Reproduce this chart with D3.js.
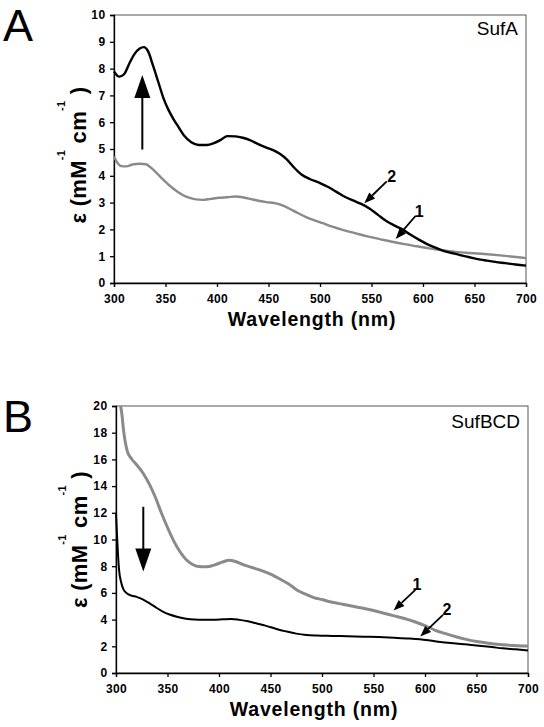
<!DOCTYPE html>
<html><head><meta charset="utf-8">
<script src="https://cdn.jsdelivr.net/npm/d3@7"></script>
<style>
html,body{margin:0;padding:0;background:#fff;}
svg{display:block;font-family:"Liberation Sans",Arial,Helvetica,sans-serif;}
</style></head>
<body>
<script>
// ---------- DATA ----------
const xTicks = [300,350,400,450,500,550,600,650,700];
const yTicksA = [0,1,2,3,4,5,6,7,8,9,10];
const yTicksB = [0,2,4,6,8,10,12,14,16,18,20];

// Panel A, SufA
const aWl2 = [300,305,310,315,320,325,329,333,338,343,348,353,358,363,368,375,382,390,397,404,410,418,425,432,440,448,455,461,468,475,482,490,500,508,516,524,532,540,548,556,564,572,580,588,596,604,612,620,628,636,644,652,660,670,680,690,700];
const aEps2 = [7.9,7.7,7.8,8.2,8.55,8.75,8.8,8.65,8.1,7.5,6.9,6.45,6.1,5.8,5.5,5.25,5.15,5.15,5.22,5.35,5.48,5.47,5.42,5.33,5.18,5.05,4.95,4.82,4.6,4.3,4.05,3.88,3.73,3.58,3.4,3.22,3.08,2.95,2.78,2.55,2.32,2.15,2.0,1.8,1.62,1.45,1.32,1.2,1.12,1.04,0.97,0.9,0.85,0.79,0.74,0.69,0.65];
const aWl1 = [300,303,307,312,318,325,331,336,342,348,355,362,370,378,386,394,402,410,418,425,432,440,448,456,462,470,478,486,494,502,512,522,534,546,558,570,582,594,606,618,630,645,660,675,690,700];
const aEps1 = [4.72,4.5,4.36,4.35,4.42,4.45,4.43,4.3,4.08,3.85,3.6,3.4,3.22,3.13,3.1,3.14,3.18,3.2,3.23,3.2,3.14,3.07,3.02,2.98,2.92,2.78,2.62,2.47,2.35,2.24,2.1,1.98,1.86,1.74,1.64,1.54,1.45,1.37,1.29,1.22,1.17,1.12,1.08,1.03,0.97,0.93];

// Panel B, SufBCD
const bWl1 = [304.5,306,307,309,311,315,320,326,332,338,344,350,356,362,368,374,380,388,396,403,410,416,424,432,440,450,460,468,476,484,492,500,510,520,530,540,550,560,570,580,590,600,610,620,630,640,650,660,670,680,690,700];
const bEps1 = [20.0,19.2,18.4,17.3,16.6,16.05,15.6,15.0,14.2,13.2,12.0,10.9,9.9,9.1,8.5,8.15,7.98,7.95,8.1,8.3,8.45,8.35,8.1,7.9,7.7,7.4,7.0,6.65,6.2,5.9,5.65,5.5,5.3,5.15,5.0,4.85,4.68,4.48,4.28,4.08,3.84,3.55,3.2,2.95,2.72,2.52,2.36,2.25,2.16,2.09,2.05,2.03];
const bWl2 = [300,301,302,303,305,307,310,315,320,326,332,338,345,352,360,368,376,385,395,404,412,420,428,436,445,455,465,475,485,495,510,525,540,555,570,585,595,605,615,625,635,645,655,665,675,688,700];
const bEps2 = [12.0,10.3,8.8,7.7,6.8,6.3,6.0,5.8,5.7,5.52,5.25,4.95,4.62,4.38,4.2,4.07,4.0,3.98,3.98,4.02,4.05,3.98,3.88,3.72,3.55,3.32,3.12,2.95,2.85,2.81,2.78,2.75,2.72,2.69,2.64,2.58,2.52,2.43,2.33,2.25,2.18,2.1,2.02,1.94,1.85,1.77,1.69];

// annotations: [x1,y1,x2,y2] in data units (from -> tip)
const aBigArrow = [327.5,4.98,327.5,7.76];
const bBigArrow = [326.5,12.45,326.5,7.6];
const aLabels = [{t:"2",x:569.6,y:3.98,ax:[564.8,3.79,543,2.98]},{t:"1",x:596.4,y:2.67,ax:[592.9,2.51,573.5,1.64]}];
const bLabels = [{t:"1",x:592.2,y:6.67,ax:[590.6,6.23,569.5,4.68]},{t:"2",x:621.4,y:4.78,ax:[617.5,4.36,595.4,2.74]}];

// ---------- DRAW ----------
const W = 544, H = 727;
const svg = d3.select("body").append("svg").attr("width",W).attr("height",H);
const GRAY = "#8a8a8a";

function panel(o){
  const g = svg.append("g").attr("transform",`translate(${o.left},${o.top})`);
  const x = d3.scaleLinear().domain([300,700]).range([0,o.w]);
  const y = d3.scaleLinear().domain([0,o.ymax]).range([o.h,0]);
  // frame
  g.append("rect").attr("width",o.w).attr("height",o.h).attr("fill","none").attr("stroke","#555").attr("stroke-width",1);
  // axes
  const xa = g.append("g").attr("transform",`translate(0,${o.h})`)
    .call(d3.axisBottom(x).tickValues(xTicks).tickSize(4).tickPadding(7.5).tickFormat(d3.format("d")));
  const ya = g.append("g").call(d3.axisLeft(y).tickValues(o.yTicks).tickSize(4).tickPadding(4.5).tickFormat(d3.format("d")));
  [xa,ya].forEach(a=>{
    a.select(".domain").attr("stroke","#000").attr("stroke-width",1.3);
    a.selectAll(".tick line").attr("stroke","#000").attr("stroke-width",1.3);
    a.selectAll("text").attr("fill","#000").style("font-size","12px").style("font-weight","bold")
      .style("letter-spacing","0.4px")
      .style("font-family",'"Liberation Sans",Arial,sans-serif');
  });
  const line = d3.line().x(d=>x(d[0])).y(d=>y(d[1])).curve(d3.curveMonotoneX);
  o.series.forEach(s=>{
    g.append("path").datum(d3.zip(s.wl,s.v)).attr("d",line)
      .attr("fill","none").attr("stroke",s.color).attr("stroke-width",s.sw).attr("stroke-linejoin","round");
  });
  // big arrow
  const ba = o.big;
  const dir = Math.sign(y(ba[3])-y(ba[1]));
  const hx = x(ba[2]), ty = y(ba[3]), headL = 23, headW = 8;
  g.append("line").attr("x1",x(ba[0])).attr("y1",y(ba[1])).attr("x2",hx).attr("y2",ty-dir*headL*0.8)
    .attr("stroke","#000").attr("stroke-width",2);
  g.append("path").attr("d",`M${hx},${ty} L${hx-headW},${ty-dir*headL} L${hx+headW},${ty-dir*headL} Z`).attr("fill","#000");
  // small labelled arrows
  o.labels.forEach(l=>{
    const [x1,y1,x2,y2] = l.ax.map((v,i)=>i%2?y(v):x(v));
    const ang = Math.atan2(y2-y1,x2-x1), hl=11, hw=4.2;
    const bx = x2-hl*Math.cos(ang), by = y2-hl*Math.sin(ang);
    g.append("line").attr("x1",x1).attr("y1",y1).attr("x2",bx).attr("y2",by).attr("stroke","#000").attr("stroke-width",1.8);
    g.append("path").attr("d",`M${x2},${y2} L${bx+hw*Math.sin(ang)},${by-hw*Math.cos(ang)} L${bx-hw*Math.sin(ang)},${by+hw*Math.cos(ang)} Z`).attr("fill","#000");
    g.append("text").attr("x",x(l.x)).attr("y",y(l.y)).attr("dy","0.35em").attr("text-anchor","middle")
      .style("font-size","16px").style("font-weight","bold").text(l.t);
  });
  // sample name
  g.append("text").attr("x",o.w-8).attr("y",o.nameY).attr("text-anchor","end").style("font-size","19px").text(o.name);
  // x title
  g.append("text").attr("x",o.w/2-8).attr("y",o.h+43).attr("text-anchor","middle")
    .style("font-size","19.5px").style("font-weight","bold").style("letter-spacing","0.8px").text("Wavelength (nm)");
  // y title
  const yt = g.append("text").attr("transform",`translate(${o.ytx},${o.h/2+o.yty}) rotate(-90)`).attr("text-anchor","middle")
    .style("font-size","22px").style("font-weight","bold").style("letter-spacing","0.3px");
  yt.append("tspan").text("ε (mM");
  yt.append("tspan").attr("dy",-21).style("font-size","11px").text("-1");
  yt.append("tspan").attr("dy",21).text(" cm");
  yt.append("tspan").attr("dy",-21).style("font-size","11px").text("-1");
  yt.append("tspan").attr("dy",21).text(" )");
  // panel letter
  svg.append("text").attr("x",3).attr("y",o.top+o.letterDY).style("font-size","45px").text(o.letter);
}

panel({left:114,top:15,w:412,h:268,ymax:10,yTicks:yTicksA,name:"SufA",nameY:20,letter:"A",letterDY:26,ytx:-28,yty:6,
  series:[{wl:aWl1,v:aEps1,color:GRAY,sw:2.4},{wl:aWl2,v:aEps2,color:"#000",sw:2.4}],
  big:aBigArrow,labels:aLabels});
panel({left:116,top:406,w:412,h:267,ymax:20,yTicks:yTicksB,name:"SufBCD",nameY:22,letter:"B",letterDY:26,ytx:-29,yty:0,
  series:[{wl:bWl1,v:bEps1,color:GRAY,sw:3},{wl:bWl2,v:bEps2,color:"#000",sw:2}],
  big:bBigArrow,labels:bLabels});
</script>
</body></html>
